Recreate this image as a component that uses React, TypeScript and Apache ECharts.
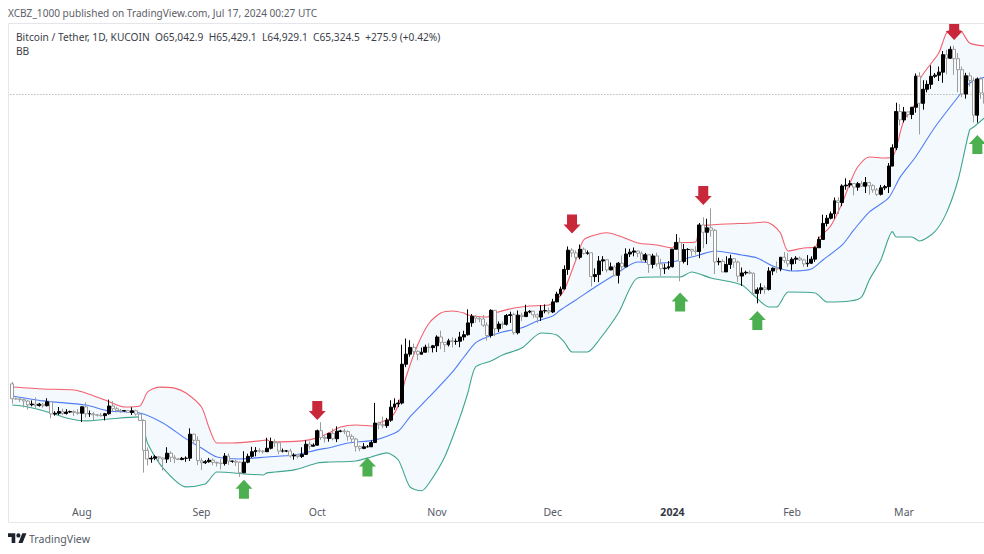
import React, { useEffect, useRef } from "react";
import * as echarts from "echarts";

const startDate = Date.UTC(2023, 6, 14);
const candleCount = 253;
const categories: string[] = Array.from({ length: candleCount }, (_, i) =>
  new Date(startDate + i * 86400000).toISOString().slice(0, 10)
);
const monthLabels: Record<string, string> = {
  "2023-08-01": "Aug", "2023-09-01": "Sep", "2023-10-01": "Oct", "2023-11-01": "Nov",
  "2023-12-01": "Dec", "2024-01-01": "{b|2024}", "2024-02-01": "Feb", "2024-03-01": "Mar",
};

const opens = [
  31474, 30315, 30295, 30250, 30145, 29856, 29910, 29800, 29905, 29790, 30080, 29175, 29225, 29350, 29210, 29315, 29355, 29275,
  29230, 29705, 29185, 29190, 29115, 29085, 29050, 29190, 29765, 29560, 29430, 29400, 29420, 29285, 29410, 29170, 28700, 26620, 26050, 26100, 26190, 26120, 26040, 26430, 26160, 26060, 26010, 26090, 26100, 27725, 27300,
  25940, 25800, 25870, 25970, 25820, 25780, 25750, 26240, 25900, 25900, 25840, 25160, 25840, 26220, 26530, 26610, 26570, 26530, 26760, 27210, 27130, 26570, 26580, 26580, 26250, 26300, 26210, 26350, 27030, 26900,
  26970, 27970, 27500, 27430, 27780, 27410, 27930, 27950, 27910, 27580, 27390, 26870, 26750, 26860, 26860, 27150, 28510, 28400, 28330, 28720, 29680, 29920, 29990, 33070, 33920, 34500, 34160, 33910, 34090, 34530, 34480,
  34640, 35420, 34940, 34730, 35080, 35020, 35040, 35420, 35620, 36700, 37310, 37130, 37060, 36490, 35550, 37880, 36160, 36590, 36570, 37390, 37470, 35800, 37420, 37290, 37720, 37790, 37450, 37240, 37820, 37850,
  37720, 38690, 39460, 39970, 41990, 44080, 43770, 43290, 44180, 43720, 43790, 41240, 41450, 42890, 43020, 41940, 42260, 41370, 42660, 42270, 43650, 43860, 43990, 43730, 43010, 43570, 42520, 43440, 42580, 42070, 42140,
  42280, 44180, 44950, 42840, 44150, 44160, 43970, 43930, 46970, 46110, 46630, 46340, 42780, 42850, 41730, 42510, 43140, 42770, 41290, 41620, 41680, 41580, 39530, 39890, 40090, 39930, 41820, 42120, 42030, 43300, 42950,
  42580, 43080, 43200, 43010, 42580, 42660, 43090, 44350, 45290, 47150, 47770, 48300, 49920, 49700, 51820, 51930, 52130, 51660, 52120, 51780, 52260, 51850, 51300, 50740, 51570, 51730, 54480, 57040, 62500,
  61200, 62440, 62030, 63170, 68330, 63800, 66100, 66930, 68300, 68500, 69020, 72130, 71480, 73100, 71400, 69450, 65320, 68390, 67600, 61930, 67850, 65500,
];
const closes = [
  30315, 30295, 30250, 30145, 29856, 29910, 29800, 29905, 29790, 30080, 29175, 29225, 29350, 29210, 29315, 29355, 29275, 29230,
  29705, 29185, 29190, 29115, 29085, 29050, 29190, 29765, 29560, 29430, 29400, 29420, 29285, 29410, 29170, 28700, 26620, 26050, 26100, 26190, 26120, 26040, 26430, 26160, 26060, 26010, 26090, 26100, 27725, 27300, 25940,
  25800, 25870, 25970, 25820, 25780, 25750, 26240, 25900, 25900, 25840, 25160, 25840, 26220, 26530, 26610, 26570, 26530, 26760, 27210, 27130, 26570, 26580, 26580, 26250, 26300, 26210, 26350, 27030, 26900, 26970,
  27970, 27500, 27430, 27780, 27410, 27930, 27950, 27910, 27580, 27390, 26870, 26750, 26860, 26860, 27150, 28510, 28400, 28330, 28720, 29680, 29920, 29990, 33070, 33920, 34500, 34160, 33910, 34090, 34530, 34480, 34640,
  35420, 34940, 34730, 35080, 35020, 35040, 35420, 35620, 36700, 37310, 37130, 37060, 36490, 35550, 37880, 36160, 36590, 36570, 37390, 37470, 35800, 37420, 37290, 37720, 37790, 37450, 37240, 37820, 37850, 37720,
  38690, 39460, 39970, 41990, 44080, 43770, 43290, 44180, 43720, 43790, 41240, 41450, 42890, 43020, 41940, 42260, 41370, 42660, 42270, 43650, 43860, 43990, 43730, 43010, 43570, 42520, 43440, 42580, 42070, 42140, 42280,
  44180, 44950, 42840, 44150, 44160, 43970, 43930, 46970, 46110, 46630, 46340, 42780, 42850, 41730, 42510, 43140, 42770, 41290, 41620, 41680, 41580, 39530, 39890, 40090, 39930, 41820, 42120, 42030, 43300, 42950, 42580,
  43080, 43200, 43010, 42580, 42660, 43090, 44350, 45290, 47150, 47770, 48300, 49920, 49700, 51820, 51930, 52130, 51660, 52120, 51780, 52260, 51850, 51300, 50740, 51570, 51730, 54480, 57040, 62500, 61200,
  62440, 62030, 63170, 68330, 63800, 66100, 66930, 68300, 68500, 69020, 72130, 71480, 73100, 71400, 69450, 65320, 68390, 67600, 61930, 67850, 65500, 63800,
];
const highs = [
  31630, 30400, 30440, 30340, 30240, 30190, 30420, 30000, 29990, 30350, 30100, 29380, 29690, 29570, 29530, 29420, 29450, 29530,
  29730, 30050, 29430, 29330, 29170, 29245, 29250, 30250, 30130, 29700, 29540, 29470, 29450, 29670, 29490, 29230, 28770, 26820, 26260, 26300, 26250, 26140, 26830, 26560, 26300, 26110, 26180, 26220, 28140, 27760, 27570,
  26120, 25980, 26120, 26080, 25880, 26030, 26440, 26420, 25940, 25990, 25890, 26560, 26400, 26860, 26840, 26770, 26630, 27480, 27490, 27380, 27160, 26740, 26640, 26730, 26430, 26390, 26830, 27300, 27220, 27090,
  28050, 28580, 27670, 27830, 28120, 28280, 28030, 28100, 27990, 27730, 27480, 26950, 27110, 26980, 27290, 30000, 28610, 28980, 28890, 30200, 30350, 30230, 34740, 35280, 35130, 34830, 34250, 34480, 34740, 34860, 34720,
  35570, 35980, 34950, 35260, 35400, 35280, 35880, 35980, 37970, 37530, 37400, 37230, 37430, 36750, 37980, 37930, 36830, 36830, 37530, 37750, 37650, 37860, 37650, 38420, 37890, 37830, 37570, 38380, 38450, 38150,
  38990, 39700, 40220, 42420, 44490, 44300, 44050, 44700, 44370, 44050, 43800, 42100, 43430, 43420, 43090, 42730, 42440, 42770, 43500, 44280, 44230, 44370, 43950, 43940, 43770, 43570, 43680, 43800, 43130, 42600, 42880,
  44180, 45900, 45500, 44770, 44300, 44230, 44500, 47200, 47890, 47700, 48970, 46500, 43250, 43080, 43400, 43570, 43200, 42930, 42190, 41860, 41900, 41680, 40130, 40550, 40350, 42220, 42200, 42840, 43300, 43880, 43740,
  43290, 43420, 43380, 43120, 43530, 43400, 44500, 45600, 48200, 48170, 48590, 50330, 50370, 52040, 52820, 52570, 52180, 52350, 52480, 52990, 52370, 52040, 51550, 51950, 51950, 54900, 57550, 63900, 63680,
  63230, 62430, 63230, 68800, 69000, 67640, 67600, 70200, 68870, 70000, 72800, 73000, 73650, 73780, 72400, 70000, 68900, 68950, 68100, 68100, 68200, 65990,
];
const lows = [
  29950, 30260, 30080, 29660, 29500, 29740, 29570, 29720, 29640, 29730, 28860, 29050, 29100, 29100, 29130, 29260, 29030, 29110,
  28585, 28920, 28960, 28730, 28990, 28975, 28700, 29125, 29350, 29310, 29240, 29350, 29250, 29100, 29050, 28700, 25170, 25620, 25800, 25970, 25800, 25300, 25790, 25850, 25770, 25980, 25970, 25860, 25920, 27020, 25650,
  25330, 25730, 25800, 25640, 25560, 25370, 25620, 25660, 25800, 25590, 24900, 25130, 25770, 26130, 26220, 26470, 26400, 26670, 26680, 26850, 26360, 26480, 26500, 26130, 26000, 26090, 26110, 26320, 26670, 26880,
  26950, 27330, 27150, 27210, 27300, 27180, 27860, 27730, 27270, 27100, 26540, 26560, 26700, 26810, 26840, 27110, 28080, 28150, 28170, 28600, 29480, 29680, 29880, 32830, 33700, 33700, 33400, 33880, 34040, 34050, 34070,
  34100, 34350, 34100, 34580, 34500, 34730, 34520, 35110, 35540, 36340, 36700, 36760, 36330, 35090, 35360, 35500, 35870, 36200, 36450, 36700, 35620, 35650, 36870, 37260, 37600, 37150, 36700, 36870, 37600, 37500,
  37620, 38650, 39280, 39980, 41420, 43330, 42820, 43080, 43580, 43570, 40220, 40680, 40660, 41810, 41670, 41900, 41250, 40530, 41800, 42200, 43330, 43400, 43300, 42750, 42750, 41630, 42100, 42300, 41300, 41520, 41970,
  42190, 44150, 40750, 42630, 42450, 43400, 43600, 43200, 44300, 44750, 45600, 41500, 42440, 41720, 41720, 42050, 42180, 40680, 40280, 41430, 41500, 39430, 38550, 39480, 39500, 39820, 41390, 41620, 41800, 42680, 42270,
  41880, 42580, 42890, 42260, 42260, 42570, 42790, 44330, 45250, 46800, 47630, 47710, 48300, 49250, 51330, 51620, 50600, 51200, 51680, 50900, 50700, 50930, 50520, 50590, 51280, 50900, 54450, 56700, 60350,
  60800, 61560, 61320, 62320, 59000, 62800, 65600, 66170, 68020, 67500, 67200, 68620, 71350, 68550, 65600, 64800, 64560, 66570, 60800, 60770, 64530, 63000,
];

// Bollinger band readings: [candle index, price]
const upperBand: [number, number][] = [
  [0, 31220], [8, 31070], [16, 30990], [19, 30760], [24, 30220], [29, 29690], [33, 29770], [34, 30220], [35, 30830], [38, 31220],
  [42, 31140], [45, 30760], [49, 29690], [51, 28160], [53, 27120], [57, 27120], [64, 27260], [66, 27330], [67, 27190], [75, 27260],
  [79, 27470], [82, 27810], [85, 28230], [89, 28380], [94, 28300], [95, 28520], [98, 28880], [100, 29840], [102, 32020], [105, 34710],
  [108, 36690], [111, 37620], [114, 37810], [117, 37620], [118, 37440], [123, 37250], [125, 37620], [130, 38100], [134, 38300], [139, 38390],
  [141, 38880], [143, 39870], [146, 43000], [148, 45220], [151, 45800], [154, 46050], [158, 45570], [162, 44890], [167, 44660], [171, 44320],
  [172, 44890], [177, 45000], [178, 46730], [181, 46970], [185, 47080], [192, 47200], [195, 47320], [197, 46970], [199, 46030], [201, 43990],
  [205, 44320], [208, 44430], [209, 45440], [212, 46850], [215, 49640], [217, 52200], [219, 54350], [222, 55740], [226, 55600], [228, 55740],
  [229, 57020], [231, 61180], [234, 63860], [235, 67670], [240, 72430], [242, 76170], [244, 77140], [246, 76370], [248, 74280], [252, 73720],
];
const middleBand: [number, number][] = [
  [0, 30530], [8, 30150], [19, 29840], [25, 29400], [33, 29250], [39, 28520], [45, 27400], [49, 26780], [53, 26180], [59, 26050],
  [66, 26180], [73, 26310], [79, 26650], [83, 26850], [87, 27120], [94, 27330], [100, 27950], [103, 28960], [108, 30450], [114, 32420],
  [117, 33680], [120, 34890], [123, 35410], [127, 35870], [132, 36250], [136, 36880], [140, 37340], [142, 37910], [146, 38880], [151, 40170],
  [156, 41410], [162, 42780], [168, 42670], [171, 42780], [178, 43550], [182, 43990], [189, 43550], [193, 43220], [197, 42350], [202, 41830],
  [207, 42040], [210, 43000], [215, 44660], [218, 46380], [222, 48520], [227, 50270], [230, 52980], [234, 55740], [239, 60080], [246, 65650],
  [248, 67160], [252, 68180],
];
const lowerBand: [number, number][] = [
  [0, 29840], [4, 29690], [10, 29250], [14, 28880], [19, 28670], [25, 28810], [33, 28960], [34, 28380], [35, 27120], [39, 25470],
  [45, 24280], [50, 24460], [51, 24710], [53, 25210], [65, 25020], [66, 25150], [73, 25340], [79, 25790], [82, 25850], [89, 25920],
  [93, 26180], [97, 26450], [100, 25980], [103, 24280], [106, 24040], [108, 24520], [112, 26180], [116, 28960], [118, 30760], [120, 32840],
  [124, 33340], [127, 33850], [132, 34450], [137, 35780], [141, 35600], [143, 34970], [145, 34110], [149, 34110], [152, 35150], [157, 37620],
  [162, 41090], [167, 41190], [173, 41190], [176, 41720], [181, 41090], [189, 40380], [192, 39370], [196, 38200], [198, 38200], [201, 39670],
  [208, 39570], [211, 38680], [217, 38780], [220, 39170], [222, 40890], [225, 43000], [228, 46190], [229, 45570], [233, 45570], [235, 45110],
  [239, 46190], [242, 48420], [245, 52600], [248, 59660], [249, 60080], [252, 61580],
];

const sellArrows: [number, number][] = [[79, 29430], [145, 47090], [179, 50590], [244, 76650]];
const buyArrows: [number, number][] = [[60, 24130], [92, 25530], [173, 38680], [193, 36920], [250, 57520]];

const lastPrice = 65324.5;
const priceMin = 22224;
const priceMax = 77920;

const publishedText = "XCBZ_1000 published on TradingView.com, Jul 17, 2024 00:27 UTC";
const legendText = "Bitcoin / Tether, 1D, KUCOIN  O65,042.9  H65,429.1  L64,929.1  C65,324.5  +275.9 (+0.42%)";
const indicatorText = "BB";
const brandText = "TradingView";

const FONT = "'Noto Sans', sans-serif";
const ARROW_DOWN = "path://M3.5 0H13.5V10H17L8.5 19L0 10H3.5Z";
const ARROW_UP = "path://M8.5 0L17 9H13.5V19H3.5V9H0Z";

echarts.graphic.registerShape(
  "tvLogo",
  echarts.graphic.extendPath(
    "M14 22H7V11H0V4h14v18zM28 22h-8l7.5-18h8L28 22zM16 8a4 4 0 1 0 8 0a4 4 0 1 0-8 0z",
    {}
  ) as any
);

export default function App() {
  const ref = useRef<HTMLDivElement>(null);
  useEffect(() => {
    const chart = echarts.init(ref.current!, undefined, { renderer: "svg" });
    const candles = categories.map((_, i) => [opens[i], closes[i], lows[i], highs[i]]);
    chart.setOption({
      animation: false,
      backgroundColor: "#ffffff",
      grid: { left: 10.4, top: 24, width: 976.58, height: 498, show: false, outerBoundsMode: "none" },
      xAxis: {
        type: "category",
        data: categories,
        boundaryGap: true,
        axisLine: { show: false },
        axisTick: { show: false },
        splitLine: { show: false },
        axisLabel: {
          inside: true,
          margin: 5,
          hideOverlap: false,
          color: "#555a66",
          fontFamily: FONT,
          fontSize: 10.5,
          interval: (_: number, value: string) => value in monthLabels,
          formatter: (value: string) => monthLabels[value] ?? "",
          rich: { b: { fontFamily: FONT, fontSize: 10.5, fontWeight: "bold", color: "#333845" } },
        },
        z: 10,
      },
      yAxis: {
        type: "log",
        logBase: 10,
        min: priceMin,
        max: priceMax,
        show: false,
        splitLine: { show: false },
      },
      series: [
        {
          type: "line",
          name: "Upper",
          data: upperBand,
          showSymbol: false,
          smooth: 0.25,
          z: 1,
          lineStyle: { color: "#f4606e", width: 1.1 },
          areaStyle: { color: "#f4f9fe", opacity: 1, origin: "start" },
        },
        {
          type: "line",
          name: "Lower",
          data: lowerBand,
          showSymbol: false,
          smooth: 0.25,
          z: 2,
          lineStyle: { color: "#3fa58f", width: 1.1 },
          areaStyle: { color: "#ffffff", opacity: 1, origin: "start" },
        },
        {
          type: "line",
          name: "Basis",
          data: middleBand,
          showSymbol: false,
          smooth: 0.25,
          z: 3,
          lineStyle: { color: "#4f7df5", width: 1.1 },
        },
        {
          type: "candlestick",
          name: "BTCUSDT",
          data: candles,
          barWidth: 3.4,
          z: 4,
          itemStyle: {
            color: "#000000",
            color0: "#ffffff",
            borderColor: "#000000",
            borderColor0: "#9c9c9c",
            borderWidth: 1,
          },
          markLine: {
            silent: true,
            symbol: "none",
            label: { show: false },
            lineStyle: { color: "#9a9a9a", type: [1, 2], width: 1 },
            data: [{ yAxis: lastPrice }],
            z: 3,
          },
        },
        {
          type: "scatter",
          name: "Sell",
          data: sellArrows,
          symbol: ARROW_DOWN,
          symbolSize: [17, 19],
          z: 6,
          itemStyle: { color: "#c9283a", opacity: 1 },
        },
        {
          type: "scatter",
          name: "Buy",
          data: buyArrows,
          symbol: ARROW_UP,
          symbolSize: [17, 19],
          z: 6,
          itemStyle: { color: "#4caf50", opacity: 1 },
        },
      ],
      graphic: [
        { type: "rect", z: 19, silent: true, shape: { x: 0, y: 0, width: 984, height: 23.5 }, style: { fill: "#ffffff" } },
        { type: "rect", z: 20, silent: true, shape: { x: 8.5, y: 23.5, width: 980, height: 499 }, style: { fill: "none", stroke: "#e4e6ea", lineWidth: 1 } },
        { type: "text", z: 20, x: 8, y: 13, style: { text: publishedText, font: `10.08px ${FONT}`, fill: "#5c6068", textVerticalAlign: "middle" } },
        { type: "text", z: 20, x: 16, y: 37, style: { text: legendText, font: `10.2px ${FONT}`, fill: "#3a3e48", textVerticalAlign: "middle" } },
        { type: "text", z: 20, x: 16, y: 51, style: { text: indicatorText, font: `10.2px ${FONT}`, fill: "#3a3e48", textVerticalAlign: "middle" } },
        { type: "tvLogo", z: 20, x: 8, y: 531, scaleX: 0.52, scaleY: 0.55, style: { fill: "#1e222d" } },
        { type: "text", z: 20, x: 29, y: 539, style: { text: brandText, font: `10.6px ${FONT}`, fill: "#555a66", textVerticalAlign: "middle" } },
      ],
    });
    return () => chart.dispose();
  }, []);
  return <div ref={ref} style={{ position: "fixed", left: 0, top: 0, width: 984, height: 554 }} />;
}
